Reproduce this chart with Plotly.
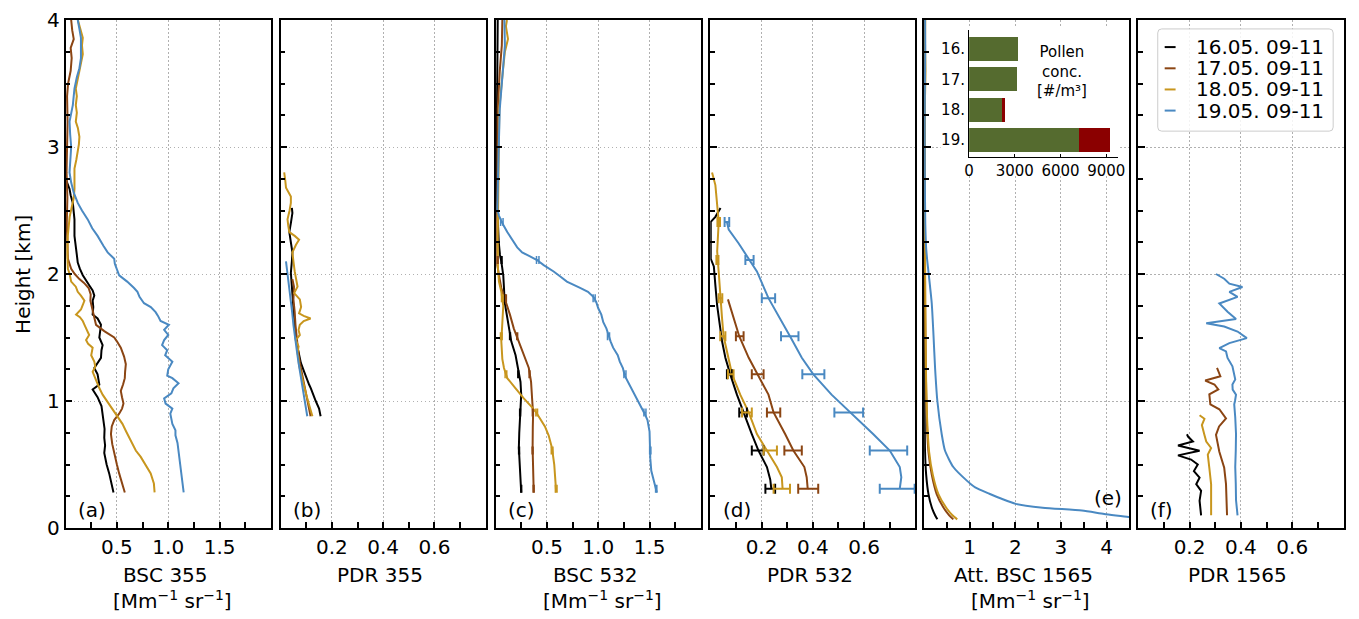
import plotly.graph_objects as go

# The page places the figure 8px from the window's top-left corner (default body margin),
# so the figure is sized and positioned to compensate.
W, H = 1359, 619
OFF = 8
WF, HF = W - OFF, H - OFF
TOP, BOTTOM = 16, 528
PH = BOTTOM - TOP

DAYS = ["16.05. 09-11", "17.05. 09-11", "18.05. 09-11", "19.05. 09-11"]
COLORS = ["#000000", "#8B4513", "#C8961E", "#4A89C2"]

# ---------------- (a) BSC 355 ----------------
BSC355_H = [
    [0.28, 0.35, 0.43, 0.50, 0.59, 0.65, 0.71, 0.78, 0.84, 0.90, 0.96, 1.03, 1.09, 1.13, 1.17, 1.21, 1.26, 1.30, 1.34, 1.40,
     1.44, 1.50, 1.55, 1.60, 1.65, 1.68, 1.74, 1.79, 1.83, 1.87, 1.91, 1.95, 1.99, 2.04, 2.09, 2.15, 2.20, 2.30, 2.43, 2.50,
     2.56, 2.62, 2.67, 2.74],
    [0.28, 0.35, 0.43, 0.50, 0.59, 0.66, 0.74, 0.80, 0.85, 0.90, 0.94, 0.98, 1.03, 1.08, 1.13, 1.18, 1.23, 1.29, 1.35, 1.42,
     1.47, 1.50, 1.55, 1.60, 1.64, 1.68, 1.74, 1.79, 1.84, 1.89, 1.93, 1.96, 2.00, 2.04, 2.12, 2.25, 2.40, 2.60, 2.80, 3.00,
     3.20, 3.40, 3.50, 3.60, 3.70, 3.78, 3.85, 3.92, 4.00],
    [0.28, 0.35, 0.43, 0.50, 0.56, 0.61, 0.66, 0.71, 0.76, 0.82, 0.86, 0.90, 0.94, 0.98, 1.02, 1.05, 1.10, 1.16, 1.20, 1.23,
     1.27, 1.31, 1.36, 1.42, 1.45, 1.48, 1.52, 1.55, 1.59, 1.63, 1.66, 1.68, 1.72, 1.76, 1.79, 1.83, 1.86, 1.90, 1.94, 2.00,
     2.04, 2.15, 2.30, 2.45, 2.50, 2.60, 2.67, 2.75, 2.83, 2.90, 2.96, 3.02, 3.08, 3.15, 3.20, 3.27, 3.33, 3.40, 3.46, 3.53,
     3.60, 3.66, 3.73, 3.80, 3.86, 3.92, 3.97, 4.00],
    [0.28, 0.35, 0.43, 0.50, 0.59, 0.67, 0.73, 0.77, 0.82, 0.87, 0.90, 0.94, 0.98, 1.02, 1.06, 1.10, 1.14, 1.18, 1.20, 1.25,
     1.31, 1.36, 1.40, 1.44, 1.48, 1.52, 1.56, 1.60, 1.63, 1.67, 1.70, 1.74, 1.77, 1.82, 1.86, 1.89, 1.94, 1.99, 2.04, 2.08,
     2.12, 2.17, 2.22, 2.30, 2.36, 2.43, 2.50, 2.56, 2.64, 2.72, 2.80, 2.90, 3.00, 3.10, 3.20, 3.33, 3.46, 3.55, 3.62, 3.70,
     3.78, 3.86, 3.93, 4.00],
]
BSC355_X = [
    [0.467, 0.45, 0.425, 0.40, 0.377, 0.385, 0.377, 0.38, 0.37, 0.361, 0.35, 0.312, 0.264, 0.329, 0.32, 0.312, 0.28, 0.31,
     0.345, 0.35, 0.361, 0.329, 0.34, 0.345, 0.312, 0.264, 0.27, 0.264, 0.28, 0.264, 0.232, 0.20, 0.168, 0.14, 0.119, 0.11,
     0.103, 0.087, 0.087, 0.08, 0.071, 0.05, 0.039, 0.006],
    [0.577, 0.55, 0.522, 0.50, 0.474, 0.455, 0.442, 0.45, 0.474, 0.522, 0.55, 0.564, 0.55, 0.538, 0.56, 0.577, 0.58, 0.587,
     0.57, 0.538, 0.50, 0.474, 0.377, 0.297, 0.285, 0.274, 0.26, 0.242, 0.245, 0.225, 0.18, 0.135, 0.09, 0.055, 0.023, 0.015,
     0.012, 0.018, 0.01, 0.015, 0.02, 0.015, 0.025, 0.05, 0.06, 0.05, 0.08, 0.065, 0.055],
    [0.867, 0.86, 0.829, 0.78, 0.732, 0.684, 0.65, 0.619, 0.59, 0.554, 0.52, 0.49, 0.46, 0.4255, 0.39, 0.361, 0.33, 0.297,
     0.275, 0.264, 0.29, 0.28, 0.25, 0.264, 0.22, 0.20, 0.23, 0.216, 0.19, 0.168, 0.14, 0.103, 0.15, 0.17, 0.184, 0.15, 0.119,
     0.10, 0.055, 0.04, 0.023, 0.018, 0.022, 0.04, 0.055, 0.08, 0.087, 0.085, 0.087, 0.105, 0.119, 0.13, 0.135, 0.12, 0.10,
     0.11, 0.10, 0.11, 0.10, 0.12, 0.135, 0.15, 0.168, 0.16, 0.168, 0.15, 0.135, 0.12],
    [1.15, 1.14, 1.13, 1.12, 1.10, 1.09, 1.07, 1.07, 1.04, 1.03, 1.02, 1.04, 0.974, 0.96, 1.03, 1.05, 1.10, 1.04, 0.99, 1.00,
     1.04, 0.97, 0.99, 0.94, 0.96, 1.00, 0.96, 1.006, 0.925, 0.90, 0.877, 0.83, 0.764, 0.72, 0.70, 0.667, 0.60, 0.522, 0.50,
     0.48, 0.474, 0.41, 0.37, 0.312, 0.26, 0.216, 0.16, 0.119, 0.08, 0.055, 0.039, 0.05, 0.055, 0.045, 0.039, 0.071, 0.087,
     0.11, 0.135, 0.15, 0.152, 0.15, 0.135, 0.119],
]

# ---------------- (b) PDR 355 ----------------
PDR355_H = [
    [0.88, 0.94, 1.00, 1.04, 1.07, 1.10, 1.13, 1.18, 1.23, 1.30, 1.40, 1.49, 1.57, 1.65, 1.72, 1.80, 1.90, 2.01, 2.10, 2.17,
     2.25, 2.33, 2.40, 2.48, 2.52],
    [0.88, 0.95, 1.00, 1.10, 1.20, 1.30, 1.40, 1.50, 1.60, 1.70, 1.80, 1.90, 1.96],
    [0.88, 0.93, 0.97, 1.05, 1.12, 1.20, 1.28, 1.33, 1.38, 1.43, 1.48, 1.52, 1.56, 1.60, 1.63, 1.65, 1.67, 1.69, 1.74, 1.80,
     1.85, 1.90, 1.96, 2.02, 2.10, 2.17, 2.23, 2.27, 2.30, 2.33, 2.38, 2.43, 2.50, 2.56, 2.61, 2.65, 2.68, 2.74, 2.80],
    [0.88, 0.95, 1.00, 1.10, 1.20, 1.30, 1.40, 1.50, 1.60, 1.70, 1.80, 1.90, 2.00, 2.10],
]
PDR355_X = [
    [0.156, 0.15, 0.137, 0.13, 0.124, 0.118, 0.111, 0.10, 0.092, 0.079, 0.068, 0.059, 0.056, 0.053, 0.05, 0.046, 0.043,
     0.04, 0.044, 0.046, 0.04, 0.034, 0.04, 0.046, 0.044],
    [0.117, 0.11, 0.105, 0.095, 0.085, 0.075, 0.068, 0.062, 0.058, 0.055, 0.05, 0.052, 0.046],
    [0.124, 0.118, 0.111, 0.10, 0.092, 0.082, 0.072, 0.07, 0.066, 0.07, 0.059, 0.075, 0.07, 0.075, 0.09, 0.117, 0.09, 0.072,
     0.08, 0.075, 0.053, 0.066, 0.059, 0.055, 0.05, 0.046, 0.06, 0.072, 0.055, 0.034, 0.03, 0.027, 0.035, 0.04, 0.04, 0.03,
     0.021, 0.018, 0.014],
    [0.104, 0.098, 0.094, 0.085, 0.077, 0.07, 0.063, 0.056, 0.05, 0.045, 0.038, 0.033, 0.027, 0.021],
]

# ---------------- (c) BSC 532 ----------------
BSC532_H = [
    [0.28, 0.40, 0.50, 0.63, 0.75, 0.90, 1.00, 1.05, 1.15, 1.26, 1.36, 1.47, 1.57, 1.68, 1.78, 1.89, 1.99, 2.10, 2.15, 2.25,
     2.40, 2.60, 3.00, 3.50, 4.00],
    [0.28, 0.45, 0.63, 0.80, 0.90, 1.02, 1.15, 1.26, 1.36, 1.47, 1.57, 1.68, 1.78, 1.89, 1.99, 2.07, 2.30, 2.60, 3.00, 3.30,
     3.60, 3.80, 4.00],
    [0.28, 0.40, 0.50, 0.63, 0.73, 0.80, 0.84, 0.90, 0.95, 1.02, 1.10, 1.18, 1.26, 1.33, 1.47, 1.62, 1.75, 1.86, 1.94, 2.05,
     2.30, 2.60, 3.00, 3.30, 3.60, 3.75, 3.85, 3.95, 4.00],
    [0.28, 0.35, 0.45, 0.55, 0.63, 0.76, 0.85, 0.90, 1.00, 1.10, 1.15, 1.20, 1.26, 1.31, 1.36, 1.42, 1.47, 1.52, 1.57, 1.62,
     1.68, 1.73, 1.78, 1.82, 1.86, 1.89, 1.94, 1.98, 2.02, 2.07, 2.11, 2.14, 2.17, 2.21, 2.25, 2.29, 2.33, 2.40, 2.46, 2.51,
     2.70, 3.00, 3.30, 3.60, 3.80, 4.00],
]
BSC532_X = [
    [0.249, 0.24, 0.232, 0.226, 0.23, 0.236, 0.242, 0.249, 0.242, 0.216, 0.194, 0.152, 0.129, 0.106, 0.087, 0.081, 0.074,
     0.055, 0.042, 0.03, 0.02, 0.012, 0.01, 0.015, 0.02],
    [0.371, 0.365, 0.36, 0.362, 0.365, 0.355, 0.345, 0.323, 0.274, 0.226, 0.177, 0.139, 0.097, 0.055, 0.032, 0.016, 0.015,
     0.015, 0.02, 0.02, 0.04, 0.06, 0.065],
    [0.59, 0.58, 0.571, 0.549, 0.516, 0.48, 0.452, 0.403, 0.355, 0.274, 0.194, 0.113, 0.081, 0.065, 0.055, 0.065, 0.074,
     0.055, 0.032, 0.022, 0.02, 0.025, 0.03, 0.035, 0.07, 0.09, 0.12, 0.10, 0.11],
    [1.571, 1.55, 1.517, 1.507, 1.507, 1.50, 1.48, 1.452, 1.387, 1.323, 1.29, 1.258, 1.24, 1.21, 1.19, 1.145, 1.12, 1.097,
     1.08, 1.049, 1.03, 1.0, 0.98, 0.952, 0.90, 0.823, 0.694, 0.63, 0.565, 0.468, 0.403, 0.33, 0.258, 0.21, 0.177, 0.14,
     0.113, 0.065, 0.032, 0.016, 0.02, 0.03, 0.04, 0.07, 0.09, 0.085],
]
BSC532_EB_H = [
    [0.31, 0.61, 0.91, 1.21, 1.51, 1.81, 2.11],
    [0.31, 0.61, 0.91, 1.21, 1.51, 1.81, 2.11],
    [0.31, 0.61, 0.91, 1.21, 1.51, 1.81],
    [0.31, 0.61, 0.91, 1.21, 1.51, 1.81, 2.11, 2.41],
]
BSC532_EB_X = [
    [0.249, 0.228, 0.238, 0.22, 0.14, 0.087, 0.058],
    [0.37, 0.36, 0.362, 0.33, 0.21, 0.10, 0.02],
    [0.59, 0.55, 0.40, 0.10, 0.055, 0.065],
    [1.565, 1.507, 1.455, 1.26, 1.10, 0.96, 0.41, 0.06],
]
BSC532_EB_ERR = [
    [0.004, 0.004, 0.004, 0.004, 0.004, 0.004, 0.004],
    [0.004, 0.004, 0.004, 0.004, 0.004, 0.004, 0.004],
    [0.008, 0.008, 0.008, 0.008, 0.008, 0.008],
    [0.006, 0.006, 0.01, 0.01, 0.01, 0.01, 0.012, 0.012],
]

# ---------------- (d) PDR 532 ----------------
PDR532_H = [
    [0.31, 0.38, 0.48, 0.61, 0.74, 0.91, 1.05, 1.21, 1.34, 1.47, 1.60, 1.75, 1.91, 2.06, 2.12, 2.30, 2.41, 2.45, 2.52],
    [0.31, 0.40, 0.48, 0.61, 0.74, 0.91, 1.05, 1.21, 1.34, 1.51, 1.65, 1.80],
    [0.31, 0.40, 0.48, 0.61, 0.74, 0.91, 1.05, 1.21, 1.34, 1.51, 1.65, 1.81, 1.96, 2.18, 2.41, 2.56, 2.70, 2.80],
    [0.31, 0.40, 0.48, 0.61, 0.74, 0.91, 1.05, 1.21, 1.34, 1.51, 1.65, 1.81, 2.02, 2.12, 2.24, 2.35, 2.41],
]
PDR532_X = [
    [0.238, 0.234, 0.221, 0.188, 0.162, 0.13, 0.104, 0.078, 0.059, 0.046, 0.036, 0.027, 0.02, 0.014, 0.002, 0.001, 0.002,
     0.02, 0.04],
    [0.38, 0.376, 0.367, 0.324, 0.292, 0.247, 0.227, 0.186, 0.15, 0.113, 0.091, 0.069],
    [0.282, 0.279, 0.26, 0.221, 0.182, 0.15, 0.117, 0.085, 0.072, 0.052, 0.046, 0.04, 0.033, 0.027, 0.033, 0.027, 0.02,
     0.007],
    [0.739, 0.745, 0.739, 0.70, 0.635, 0.544, 0.473, 0.402, 0.357, 0.311, 0.2725, 0.227, 0.182, 0.15, 0.111, 0.072, 0.065],
]
PDR532_EB_H = [
    [0.31, 0.61, 0.91, 1.21],
    [0.31, 0.61, 0.91, 1.21, 1.51],
    [0.31, 0.61, 0.91, 1.21, 1.51, 1.81, 2.11, 2.41],
    [0.31, 0.61, 0.91, 1.21, 1.51, 1.81, 2.11, 2.41],
]
PDR532_EB_X = [
    [0.234, 0.185, 0.128, 0.075],
    [0.382, 0.323, 0.247, 0.185, 0.115],
    [0.279, 0.234, 0.143, 0.08, 0.049, 0.04, 0.028, 0.033],
    [0.729, 0.695, 0.54, 0.402, 0.31, 0.227, 0.153, 0.065],
]
PDR532_EB_ERR = [
    [0.019, 0.023, 0.015, 0.01],
    [0.039, 0.034, 0.026, 0.023, 0.015],
    [0.032, 0.026, 0.019, 0.011, 0.01, 0.007, 0.004, 0.005],
    [0.068, 0.073, 0.056, 0.043, 0.034, 0.026, 0.016, 0.009],
]

# ---------------- (e) Att. BSC 1565 ----------------
ATT1565_H = [
    [0.068, 0.10, 0.163, 0.267, 0.42, 0.60, 0.90, 1.4, 2.0, 3.0, 4.0],
    [0.068, 0.10, 0.163, 0.267, 0.42, 0.60, 0.86, 1.25, 1.77, 2.5, 3.3, 4.0],
    [0.068, 0.10, 0.163, 0.267, 0.42, 0.60, 0.86, 1.25, 1.77, 2.5, 3.3, 3.6, 3.8, 4.0],
    [0.07, 0.086, 0.11, 0.137, 0.16, 0.19, 0.23, 0.27, 0.32, 0.375, 0.48, 0.61, 0.74, 1.0, 1.26, 1.52, 1.77, 1.9, 2.0,
     2.1, 2.2, 2.4, 2.8, 3.2, 3.6, 3.8, 4.0],
]
ATT1565_X = [
    [0.29, 0.24, 0.167, 0.095, 0.044, 0.02, 0.012, 0.008, 0.006, 0.005, 0.005],
    [0.64, 0.55, 0.42, 0.275, 0.167, 0.095, 0.058, 0.037, 0.022, 0.015, 0.012, 0.01],
    [0.726, 0.62, 0.478, 0.313, 0.19, 0.109, 0.065, 0.04, 0.025, 0.018, 0.015, 0.03, 0.02, 0.025],
    [4.75, 4.48, 3.95, 3.46, 2.6, 2.01, 1.7, 1.43, 1.12, 0.93, 0.64, 0.457, 0.385, 0.29, 0.24, 0.205, 0.167, 0.13, 0.10,
     0.07, 0.045, 0.025, 0.015, 0.012, 0.02, 0.025, 0.02],
]

# ---------------- (f) PDR 1565 ----------------
PDR1565_H = [
    [0.099, 0.215, 0.293, 0.345, 0.397, 0.448, 0.50, 0.539, 0.572, 0.609, 0.650, 0.681, 0.720, 0.738],
    [0.10, 0.22, 0.345, 0.474, 0.60, 0.733, 0.80, 0.863, 0.935, 0.974, 1.052, 1.091, 1.13, 1.161, 1.195, 1.26],
    [0.10, 0.22, 0.345, 0.474, 0.578, 0.63, 0.681, 0.733, 0.811, 0.86, 0.888],
    [0.10, 0.22, 0.35, 0.48, 0.61, 0.74, 0.87, 0.974, 1.0, 1.05, 1.09, 1.13, 1.17, 1.21, 1.273, 1.339, 1.39, 1.417, 1.456,
     1.495, 1.547, 1.586, 1.612, 1.646, 1.703, 1.768, 1.82, 1.859, 1.898, 1.924, 1.963, 2.0],
]
PDR1565_X = [
    [0.245, 0.239, 0.245, 0.226, 0.239, 0.217, 0.232, 0.206, 0.155, 0.239, 0.155, 0.213, 0.194, 0.19],
    [0.346, 0.345, 0.342, 0.335, 0.316, 0.303, 0.315, 0.342, 0.316, 0.281, 0.277, 0.312, 0.297, 0.261, 0.32, 0.307],
    [0.284, 0.284, 0.284, 0.277, 0.271, 0.284, 0.265, 0.258, 0.248, 0.258, 0.239],
    [0.387, 0.381, 0.38, 0.378, 0.38, 0.381, 0.378, 0.374, 0.377, 0.381, 0.368, 0.367, 0.378, 0.374, 0.367, 0.348, 0.342,
     0.316, 0.355, 0.423, 0.387, 0.335, 0.265, 0.381, 0.348, 0.316, 0.387, 0.355, 0.406, 0.355, 0.335, 0.303],
]

# ---------------- inset: pollen concentration ----------------
POLLEN_DAYS = ["16.", "17.", "18.", "19."]
POLLEN_GREEN = [3190, 3140, 2150, 7240]
POLLEN_RED = [0, 0, 230, 2020]

# ---------------- panel definitions ----------------
XTITLES = [
    ("BSC 355", "[Mm<sup>−1</sup> sr<sup>−1</sup>]"),
    ("PDR 355", None),
    ("BSC 532", "[Mm<sup>−1</sup> sr<sup>−1</sup>]"),
    ("PDR 532", None),
    ("Att. BSC 1565", "[Mm<sup>−1</sup> sr<sup>−1</sup>]"),
    ("PDR 1565", None),
]
PANEL_LABELS = ["(a)", "(b)", "(c)", "(d)", "(e)", "(f)"]
PANEL_PX = [(61, 268.3), (278, 485), (495, 702), (711.5, 918.5), (927.3, 1134.3), (1143.3, 1350.5)]
X_RANGES = [[0, 2], [0, 0.8], [0, 2], [0, 0.8], [0, 4.5], [0, 0.8]]
X_TICKS = [[0.5, 1.0, 1.5], [0.2, 0.4, 0.6], [0.5, 1.0, 1.5], [0.2, 0.4, 0.6], [1, 2, 3, 4], [0.2, 0.4, 0.6]]
X_MINOR = [[0.25, 0.75, 1.25, 1.75], [0.1, 0.3, 0.5, 0.7], [0.25, 0.75, 1.25, 1.75], [0.1, 0.3, 0.5, 0.7],
           [0.5, 1.5, 2.5, 3.5], [0.1, 0.3, 0.5, 0.7]]
X_FMT = [".1f", ".1f", ".1f", ".1f", "d", ".1f"]
Y_TICKS = [0, 1, 2, 3, 4]
Y_MINOR = [0.25, 0.5, 0.75, 1.25, 1.5, 1.75, 2.25, 2.5, 2.75, 3.25, 3.5, 3.75]

PROFILES = [(BSC355_H, BSC355_X), (PDR355_H, PDR355_X), (BSC532_H, BSC532_X),
            (PDR532_H, PDR532_X), (ATT1565_H, ATT1565_X), (PDR1565_H, PDR1565_X)]
ERRBARS = {3: (BSC532_EB_H, BSC532_EB_X, BSC532_EB_ERR, 4, 1.5),
           4: (PDR532_EB_H, PDR532_EB_X, PDR532_EB_ERR, 5, 2)}

FONT = "DejaVu Sans"


def fx(px):
    # window pixel x -> paper fraction
    return (px - OFF) / WF


def fy(py):
    # window pixel y -> paper fraction (plot area spans window y 16..528)
    return (BOTTOM - py) / PH


def ax_name(n):
    return "" if n == 1 else str(n)


fig = go.Figure()

for n in range(1, 7):
    hs, xs = PROFILES[n - 1]
    for j in range(4):
        fig.add_trace(go.Scatter(
            x=xs[j], y=hs[j], mode="lines",
            line=dict(color=COLORS[j], width=2, shape="spline" if n == 5 else "linear", smoothing=0.6),
            xaxis="x" + ax_name(n), yaxis="y" + ax_name(n), showlegend=False, hoverinfo="skip"))
    if n in ERRBARS:
        ebh, ebx, ebe, capw, thick = ERRBARS[n]
        for j in range(4):
            fig.add_trace(go.Scatter(
                x=ebx[j], y=ebh[j], mode="markers", marker=dict(size=1, color=COLORS[j]),
                error_x=dict(type="data", array=ebe[j], symmetric=True, color=COLORS[j],
                             thickness=thick, width=capw),
                xaxis="x" + ax_name(n), yaxis="y" + ax_name(n), showlegend=False, hoverinfo="skip"))

# inset bars
fig.add_trace(go.Bar(y=[0, 1, 2, 3], x=POLLEN_GREEN, orientation="h", width=0.8,
                     marker=dict(color="#556B2F", line=dict(width=0)),
                     xaxis="x7", yaxis="y7", showlegend=False, hoverinfo="skip"))
fig.add_trace(go.Bar(y=[0, 1, 2, 3], x=POLLEN_RED, orientation="h", width=0.8,
                     marker=dict(color="#8B0000", line=dict(width=0)),
                     xaxis="x7", yaxis="y7", showlegend=False, hoverinfo="skip"))

layout = dict(
    width=WF, height=HF, margin=dict(l=0, r=0, t=TOP - OFF, b=H - BOTTOM),
    paper_bgcolor="white", plot_bgcolor="white", barmode="stack",
    font=dict(family=FONT, size=20, color="black"), showlegend=False,
)

GRID = dict(showgrid=True, gridcolor="#b0b0b0", gridwidth=1, griddash="1.5px,2.5px")
LINE = dict(showline=True, linecolor="black", linewidth=1.5, mirror=True, zeroline=False)

for n in range(1, 7):
    x0, x1 = PANEL_PX[n - 1]
    layout["xaxis" + ax_name(n)] = dict(
        domain=[fx(x0), fx(x1)], range=X_RANGES[n - 1], anchor="y" + ax_name(n),
        tickmode="array", tickvals=X_TICKS[n - 1], tickformat=X_FMT[n - 1],
        ticks="inside", ticklen=6, tickwidth=1.5, tickcolor="black", ticklabeloverflow="allow",
        tickfont=dict(family=FONT, size=20, color="black"),
        minor=dict(tickmode="array", tickvals=X_MINOR[n - 1], ticks="inside", ticklen=6, tickwidth=1.5,
                   tickcolor="black", showgrid=False),
        **GRID, **LINE)
    layout["yaxis" + ax_name(n)] = dict(
        domain=[0, 1], range=[0, 4], anchor="x" + ax_name(n),
        tickmode="array", tickvals=Y_TICKS, showticklabels=(n == 1),
        ticks="inside", ticklen=7, tickwidth=1.5, tickcolor="black", ticklabeloverflow="allow",
        tickfont=dict(family=FONT, size=20, color="black"),
        minor=dict(tickmode="array", tickvals=Y_MINOR, ticks="inside", ticklen=5, tickwidth=1.5,
                   tickcolor="black", showgrid=False),
        **GRID, **LINE)

layout["xaxis7"] = dict(
    domain=[fx(972.7), fx(1122.7)], range=[0, 9760], anchor="y7",
    tickmode="array", tickvals=[0, 3000, 6000, 9000], ticks="inside", ticklen=3, tickwidth=1.2,
    tickcolor="black", tickfont=dict(family=FONT, size=15, color="black"),
    showline=True, linecolor="black", linewidth=1.3, mirror=False, showgrid=False, zeroline=False)
layout["yaxis7"] = dict(
    domain=[fy(154), fy(26)], range=[3.55, -0.62], anchor="x7",
    tickmode="array", tickvals=[0, 1, 2, 3], ticktext=POLLEN_DAYS, ticks="",
    tickfont=dict(family=FONT, size=15, color="black"),
    showline=True, linecolor="black", linewidth=1.3, mirror=False, showgrid=False, zeroline=False)

annotations = []
for n in range(1, 7):
    x0, x1 = PANEL_PX[n - 1]
    cx = (x0 + x1) / 2
    t1, t2 = XTITLES[n - 1]
    annotations.append(dict(text=t1, x=fx(cx - 3), y=fy(575), xref="paper", yref="paper",
                            xanchor="center", yanchor="middle", showarrow=False,
                            font=dict(family=FONT, size=20, color="black")))
    if t2:
        annotations.append(dict(text=t2, x=fx(cx + 4), y=fy(601), xref="paper", yref="paper",
                                xanchor="center", yanchor="middle", showarrow=False,
                                font=dict(family=FONT, size=20, color="black")))
    if n == 5:
        annotations.append(dict(text=PANEL_LABELS[n - 1], x=0.972, y=0.059, xref="x5 domain", yref="y5 domain",
                                xanchor="right", yanchor="middle", showarrow=False,
                                font=dict(family=FONT, size=20, color="black")))
    else:
        annotations.append(dict(text=PANEL_LABELS[n - 1], x=0.05, y=0.036,
                                xref="x" + ax_name(n) + " domain", yref="y" + ax_name(n) + " domain",
                                xanchor="left", yanchor="middle", showarrow=False,
                                font=dict(family=FONT, size=20, color="black")))

annotations.append(dict(text="Height [km]", x=fx(18), y=fy(272), xref="paper", yref="paper",
                        xanchor="center", yanchor="middle", textangle=-90, showarrow=False,
                        font=dict(family=FONT, size=20, color="black")))
annotations.append(dict(text="Pollen<br>conc.<br>[#/m³]", x=fx(1066), y=fy(67.5), xref="paper", yref="paper",
                        xanchor="center", yanchor="middle", showarrow=False, align="center",
                        font=dict(family=FONT, size=15, color="black")))

# legend (inside panel f)
LEG_ROWS = [43.3, 64.7, 86.0, 107.3]
for j in range(4):
    annotations.append(dict(text=DAYS[j], x=fx(1200), y=fy(LEG_ROWS[j]), xref="paper", yref="paper",
                            xanchor="left", yanchor="middle", showarrow=False,
                            font=dict(family=FONT, size=20, color="black")))

shapes = []
# white background behind inset
shapes.append(dict(type="rect", xref="x5", yref="y5", x0=0.36, x1=4.28, y0=2.78, y1=3.95,
                   fillcolor="white", line=dict(width=0), layer="between"))
# legend frame (rounded)
lx0, lx1, ly0, ly1 = fx(1163), fx(1340), fy(128), fy(25)
rx, ry = 4 / WF, 4 / PH
path = (f"M {lx0 + rx},{ly0} L {lx1 - rx},{ly0} Q {lx1},{ly0} {lx1},{ly0 + ry} "
        f"L {lx1},{ly1 - ry} Q {lx1},{ly1} {lx1 - rx},{ly1} L {lx0 + rx},{ly1} "
        f"Q {lx0},{ly1} {lx0},{ly1 - ry} L {lx0},{ly0 + ry} Q {lx0},{ly0} {lx0 + rx},{ly0} Z")
shapes.append(dict(type="path", path=path, xref="paper", yref="paper",
                   fillcolor="rgba(255,255,255,0.85)", line=dict(color="#cccccc", width=1), layer="above"))
for j in range(4):
    shapes.append(dict(type="line", xref="paper", yref="paper", x0=fx(1170), x1=fx(1181),
                       y0=fy(LEG_ROWS[j]), y1=fy(LEG_ROWS[j]), line=dict(color=COLORS[j], width=2), layer="above"))

layout["annotations"] = annotations
layout["shapes"] = shapes
fig.update_layout(**layout)

fig.write_html("out.html")
